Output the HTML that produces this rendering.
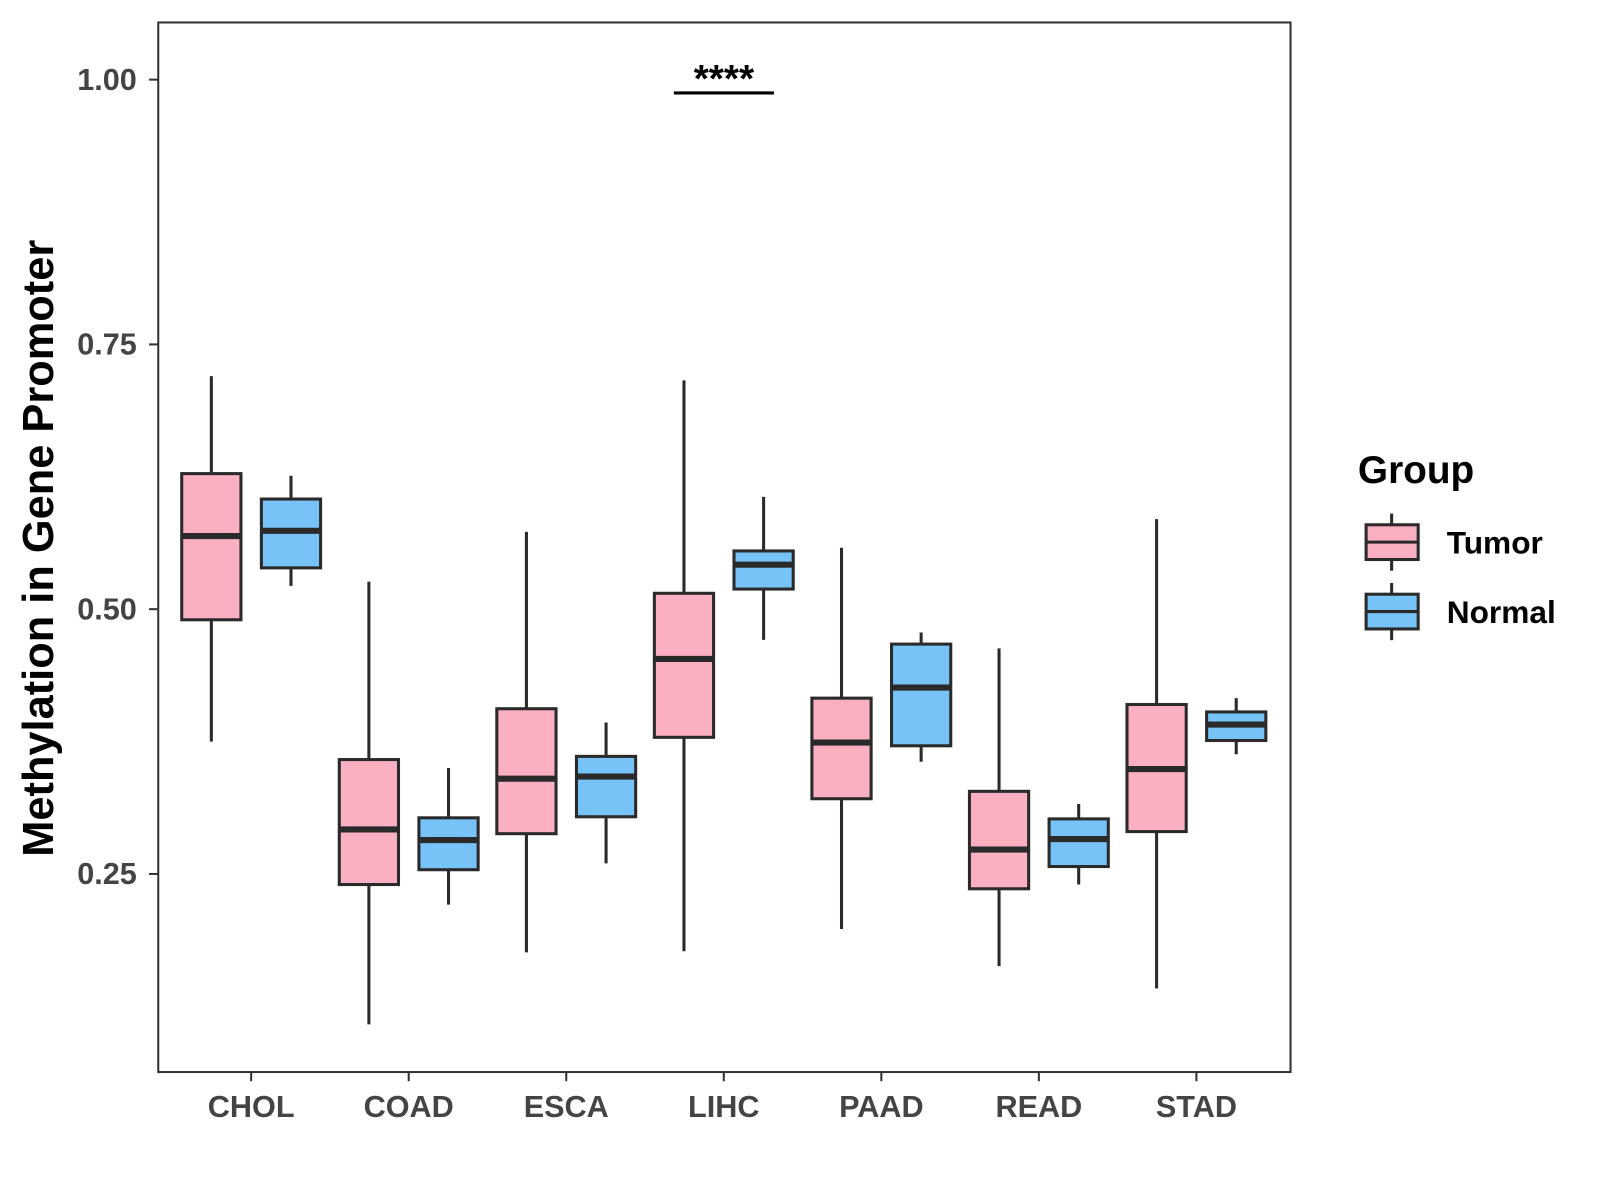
<!DOCTYPE html>
<html><head><meta charset="utf-8"><style>body{margin:0;background:#fff}svg{display:block}text{font-family:"Liberation Sans",sans-serif;font-weight:bold}</style></head>
<body>
<svg width="1600" height="1200">
<g id="c" transform="scale(1.021)">
<rect x="155" y="22" width="1109" height="1028" fill="#fff" stroke="#333" stroke-width="2"/>
<text x="52" y="537" font-size="42.5" text-anchor="middle" transform="rotate(-90 52 537)" fill="#000">Methylation in Gene Promoter</text>
<g>
<text x="1330" y="473" font-size="38" fill="#000">Group</text>
</g>
</g>
</svg>
<script>
const categories=["CHOL","COAD","ESCA","LIHC","PAAD","READ","STAD"];
const yTicks=[0.25,0.50,0.75,1.00];
const yTickLabels=["0.25","0.50","0.75","1.00"];
// [low, q1, median, q3, high]
const tumorStats=[[0.375,0.490,0.569,0.628,0.720],[0.108,0.240,0.292,0.358,0.526],[0.176,0.288,0.340,0.406,0.573],[0.177,0.379,0.453,0.515,0.716],[0.198,0.321,0.374,0.416,0.558],[0.163,0.236,0.273,0.328,0.463],[0.142,0.290,0.349,0.410,0.585]];
const normalStats=[[0.522,0.539,0.574,0.604,0.626],[0.221,0.254,0.282,0.303,0.350],[0.260,0.304,0.342,0.361,0.393],[0.471,0.519,0.542,0.555,0.606],[0.356,0.371,0.426,0.467,0.478],[0.240,0.257,0.283,0.302,0.316],[0.363,0.376,0.391,0.403,0.416]];
const groups=["Tumor","Normal"];
const groupColors=["#FBB0C1","#77C3F7"];
const sigLabel="****";
const svg=document.getElementById('c');const NS="http://www.w3.org/2000/svg";
const y=v=>78+(1-v)*1037.3;
const x=i=>246+i*154.3;
function mk(t,a,p){const e=document.createElementNS(NS,t);for(const k in a)e.setAttribute(k,a[k]);(p||svg).appendChild(e);return e;}
yTicks.forEach((v,i)=>{
const t=mk('line',{x1:146,x2:155,y1:y(v),y2:y(v),stroke:'#333','stroke-width':2});


const l=mk('text',{x:134,y:y(v)+10,'font-size':30,'text-anchor':'end',fill:'#444'});l.textContent=yTickLabels[i];


});
categories.forEach((c,i)=>{
const t=mk('line',{x1:x(i),x2:x(i),y1:1050,y2:1059,stroke:'#333','stroke-width':2});


const l=mk('text',{x:x(i),y:1094,'font-size':30,'text-anchor':'middle',fill:'#444'});l.textContent=c;


});
function box(cx,s,col,name){
const g=mk('g',{});


mk('line',{x1:cx,x2:cx,y1:y(s[4]),y2:y(s[0]),stroke:'#2a2a2a','stroke-width':3},g);
mk('rect',{x:cx-29,y:y(s[3]),width:58,height:y(s[1])-y(s[3]),fill:col,stroke:'#2a2a2a','stroke-width':3},g);
mk('line',{x1:cx-29,x2:cx+29,y1:y(s[2]),y2:y(s[2]),stroke:'#2a2a2a','stroke-width':6},g);
}
categories.forEach((c,i)=>{box(x(i)-39,tumorStats[i],groupColors[0],'box-tumor-'+c.toLowerCase());box(x(i)+39,normalStats[i],groupColors[1],'box-normal-'+c.toLowerCase());});
const sb=mk('line',{x1:660,x2:758,y1:91,y2:91,stroke:'#000','stroke-width':3});


const st=mk('text',{x:709,y:90,'font-size':38,'text-anchor':'middle',fill:'#000'});st.textContent=sigLabel;


groups.forEach((gname,i)=>{
const cy=531+i*68;
const g=mk('g',{});


mk('line',{x1:1363,x2:1363,y1:cy-28,y2:cy+28,stroke:'#2a2a2a','stroke-width':3},g);
mk('rect',{x:1338,y:cy-17,width:51,height:34,fill:groupColors[i],stroke:'#2a2a2a','stroke-width':3},g);
mk('line',{x1:1338,x2:1389,y1:cy,y2:cy,stroke:'#2a2a2a','stroke-width':3},g);
const l=mk('text',{x:1417,y:cy+11,'font-size':31,fill:'#000'},g);l.textContent=gname;
});
</script>
</body></html>
